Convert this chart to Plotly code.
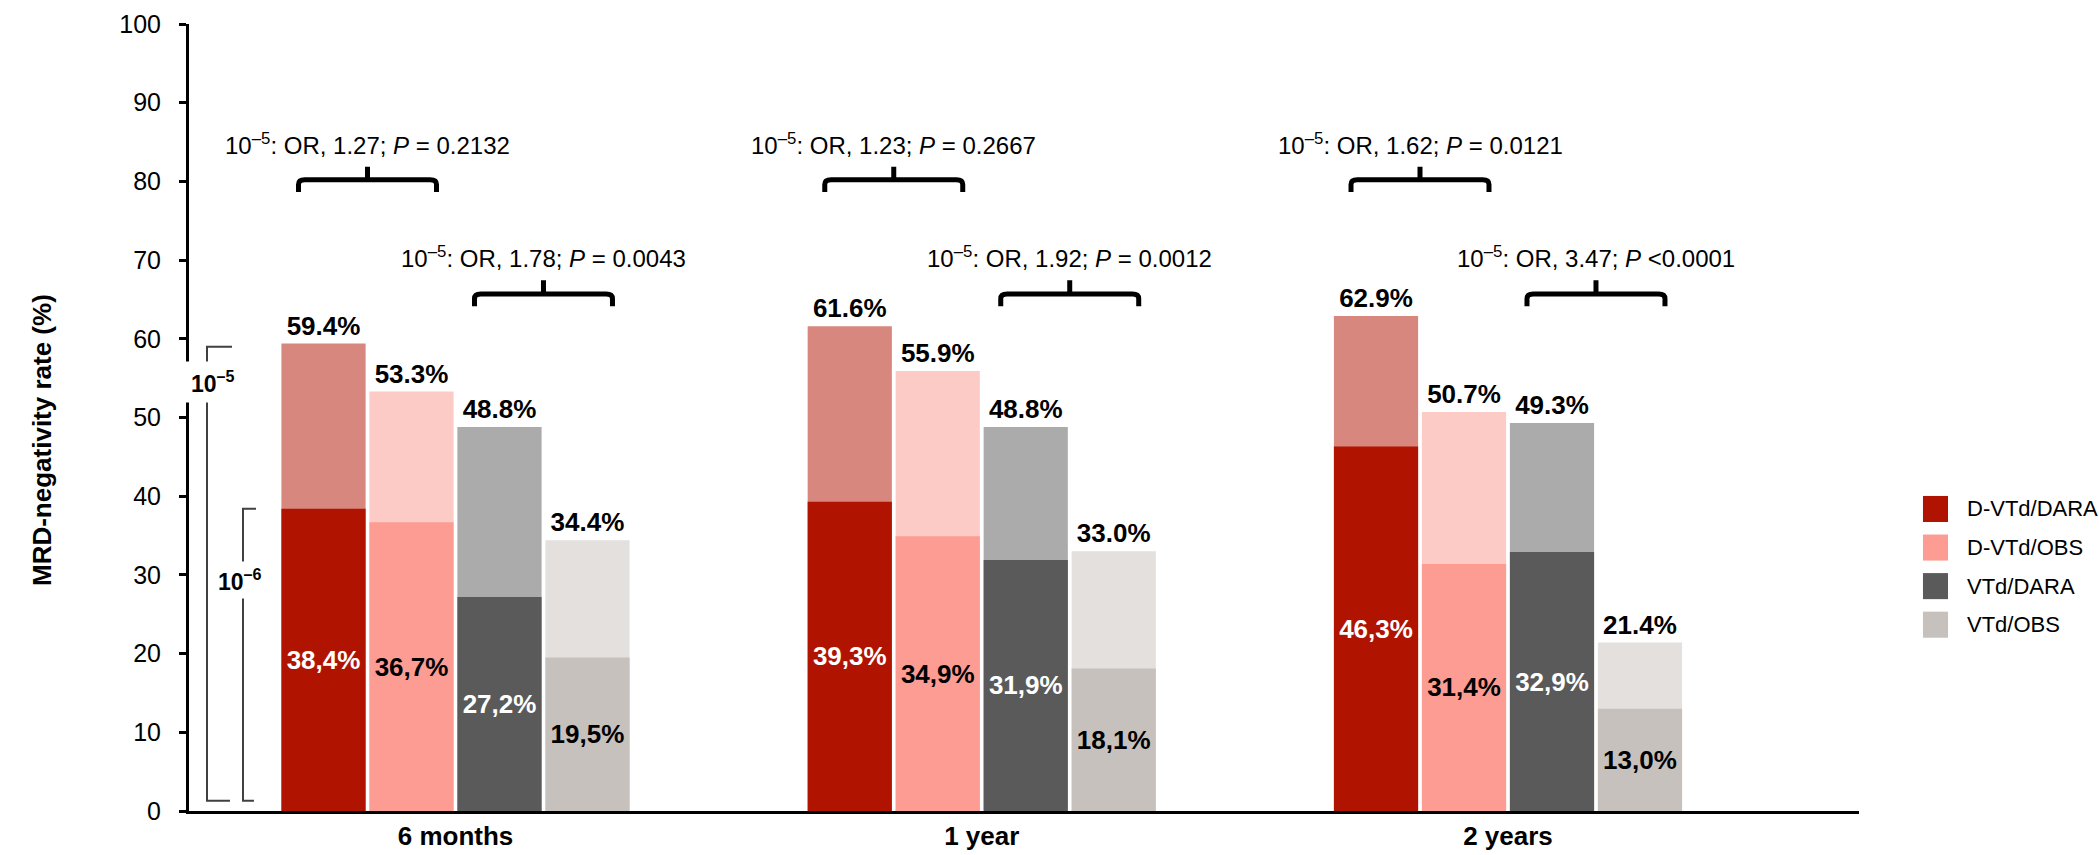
import plotly.graph_objects as go

# Time points and treatment arms
timepoints = ["6 months", "1 year", "2 years"]
arms = ["D-VTd/DARA", "D-VTd/OBS", "VTd/DARA", "VTd/OBS"]

# MRD-negativity rate (%) at the 10^-5 threshold
dvtd_dara_1e5 = [59.4, 61.6, 62.9]
dvtd_obs_1e5 = [53.3, 55.9, 50.7]
vtd_dara_1e5 = [48.8, 48.8, 49.3]
vtd_obs_1e5 = [34.4, 33.0, 21.4]

# MRD-negativity rate (%) at the 10^-6 threshold
dvtd_dara_1e6 = [38.4, 39.3, 46.3]
dvtd_obs_1e6 = [36.7, 34.9, 31.4]
vtd_dara_1e6 = [27.2, 31.9, 32.9]
vtd_obs_1e6 = [19.5, 18.1, 13.0]

# Odds ratios (10^-5): D-VTd/DARA vs D-VTd/OBS, and VTd/DARA vs VTd/OBS
or_dvtd = ["1.27", "1.23", "1.62"]
p_dvtd = ["= 0.2132", "= 0.2667", "= 0.0121"]
or_vtd = ["1.78", "1.92", "3.47"]
p_vtd = ["= 0.0043", "= 0.0012", "&lt;0.0001"]

rates_1e5 = [dvtd_dara_1e5, dvtd_obs_1e5, vtd_dara_1e5, vtd_obs_1e5]
rates_1e6 = [dvtd_dara_1e6, dvtd_obs_1e6, vtd_dara_1e6, vtd_obs_1e6]

dark_colors = ["#B01400", "#FC9C92", "#5A5A5A", "#C6C1BD"]
light_colors = ["#D8877E", "#FDCBC6", "#ABABAB", "#E3E0DE"]
inner_text_colors = ["white", "black", "white", "black"]

FONT = "Arial, Liberation Sans, sans-serif"
PITCH = 0.1672
BAR_W = 0.16
offsets = [-1.5 * PITCH, -0.5 * PITCH, 0.5 * PITCH, 1.5 * PITCH]
groups = list(range(len(timepoints)))

fig = go.Figure()

# 10^-5 bars (full height, lighter shade) with value on top
for k, arm in enumerate(arms):
    fig.add_trace(go.Bar(
        x=[g + offsets[k] for g in groups],
        y=rates_1e5[k],
        width=BAR_W,
        marker=dict(color=light_colors[k], line=dict(width=0)),
        text=[f"{v:.1f}%" for v in rates_1e5[k]],
        textposition="outside",
        textfont=dict(family=FONT, size=26, color="black", weight="bold"),
        constraintext="none",
        cliponaxis=False,
        showlegend=False,
        name=arm + " 10-5",
    ))

# 10^-6 bars (darker shade) overlaid, value centred inside
for k, arm in enumerate(arms):
    fig.add_trace(go.Bar(
        x=[g + offsets[k] for g in groups],
        y=rates_1e6[k],
        width=BAR_W,
        marker=dict(color=dark_colors[k], line=dict(width=0)),
        text=[f"{v:.1f}%".replace(".", ",") for v in rates_1e6[k]],
        textposition="inside",
        insidetextanchor="middle",
        textangle=0,
        textfont=dict(family=FONT, size=26, color=inner_text_colors[k], weight="bold"),
        constraintext="none",
        showlegend=False,
        name=arm,
    ))

shapes = []
annotations = []

# Braces with odds-ratio labels
HALF = 0.1311
def brace(xc, yh, leg, stem):
    r, ry = 0.012, 0.6
    xl, xr = xc - HALF, xc + HALF
    return dict(
        type="path", xref="x", yref="y",
        path=(f"M {xl},{yh - leg} L {xl},{yh - ry} Q {xl},{yh} {xl + r},{yh} "
              f"L {xr - r},{yh} Q {xr},{yh} {xr},{yh - ry} L {xr},{yh - leg} "
              f"M {xc},{yh} L {xc},{yh + stem}"),
        line=dict(color="black", width=5),
    )

for g in groups:
    xa = g + (offsets[0] + offsets[1]) / 2
    xb = g + (offsets[2] + offsets[3]) / 2
    shapes.append(brace(xa, 80.2, 1.55, 1.65))
    shapes.append(brace(xb, 65.7, 1.55, 1.75))
    annotations.append(dict(
        x=xa, y=84.8, xref="x", yref="y", showarrow=False,
        text=f"10<sup>\u20135</sup>: OR, {or_dvtd[g]}; <i>P</i> {p_dvtd[g]}",
        font=dict(family=FONT, size=24, color="black"),
    ))
    annotations.append(dict(
        x=xb, y=70.4, xref="x", yref="y", showarrow=False,
        text=f"10<sup>\u20135</sup>: OR, {or_vtd[g]}; <i>P</i> {p_vtd[g]}",
        font=dict(family=FONT, size=24, color="black"),
    ))

# Threshold brackets beside the first group
bracket_col = "#404040"
shapes.append(dict(type="path", xref="x", yref="y",
                   path="M -0.4247,59.0 L -0.4722,59.0 L -0.4722,1.3 L -0.4285,1.3",
                   line=dict(color=bracket_col, width=2)))
shapes.append(dict(type="path", xref="x", yref="y",
                   path="M -0.3791,38.4 L -0.4038,38.4 L -0.4038,1.3 L -0.3830,1.3",
                   line=dict(color=bracket_col, width=2)))
annotations.append(dict(
    x=-0.4608, y=54.5, xref="x", yref="y", showarrow=False,
    text="<b>10<sup>\u20135</sup></b>", bgcolor="white", borderpad=5,
    font=dict(family=FONT, size=23, color="black"),
))
annotations.append(dict(
    x=-0.4095, y=29.35, xref="x", yref="y", showarrow=False,
    text="<b>10<sup>\u20136</sup></b>", bgcolor="white", borderpad=3,
    font=dict(family=FONT, size=23, color="black"),
))

# Y-axis title
annotations.append(dict(
    x=-0.0982, y=0.4714, xref="paper", yref="paper", showarrow=False,
    text="<b>MRD-negativity rate (%)</b>", textangle=-90,
    font=dict(family=FONT, size=26, color="black"),
))

# Legend (square swatch + label per arm)
leg_x0, leg_x1 = 1.0383, 1.0533
leg_top = 0.4003
leg_step = 0.0490
leg_h = 0.0331
for k, arm in enumerate(arms):
    yt = leg_top - k * leg_step
    shapes.append(dict(type="rect", xref="paper", yref="paper",
                       x0=leg_x0, x1=leg_x1, y0=yt - leg_h, y1=yt,
                       fillcolor=dark_colors[k], line=dict(width=0)))
    annotations.append(dict(
        x=1.0635, y=yt - leg_h / 2, xref="paper", yref="paper",
        xanchor="left", yanchor="middle", showarrow=False, text=arm,
        font=dict(family=FONT, size=22, color="black"),
    ))

fig.update_layout(
    width=2099, height=855, autosize=False,
    margin=dict(l=189, r=240, t=24, b=44, pad=0),
    barmode="overlay",
    plot_bgcolor="white", paper_bgcolor="white",
    shapes=shapes, annotations=annotations,
    showlegend=False,
    xaxis=dict(
        range=[-0.5064, 2.667],
        tickvals=groups, ticktext=[f"<b>{t}</b>" for t in timepoints],
        tickfont=dict(family=FONT, size=26, color="black"),
        showline=True, linecolor="black", linewidth=3,
        ticks="", showgrid=False, zeroline=False,
        ticklabelstandoff=0, automargin=False,
    ),
    yaxis=dict(
        range=[0, 100], tickvals=list(range(0, 101, 10)),
        tickfont=dict(family=FONT, size=25, color="black"),
        showline=True, linecolor="black", linewidth=3,
        ticks="outside", ticklen=7, tickwidth=3, tickcolor="black",
        showgrid=False, zeroline=False,
        ticklabelstandoff=13, automargin=False,
    ),
)

fig.write_html("out.html")
